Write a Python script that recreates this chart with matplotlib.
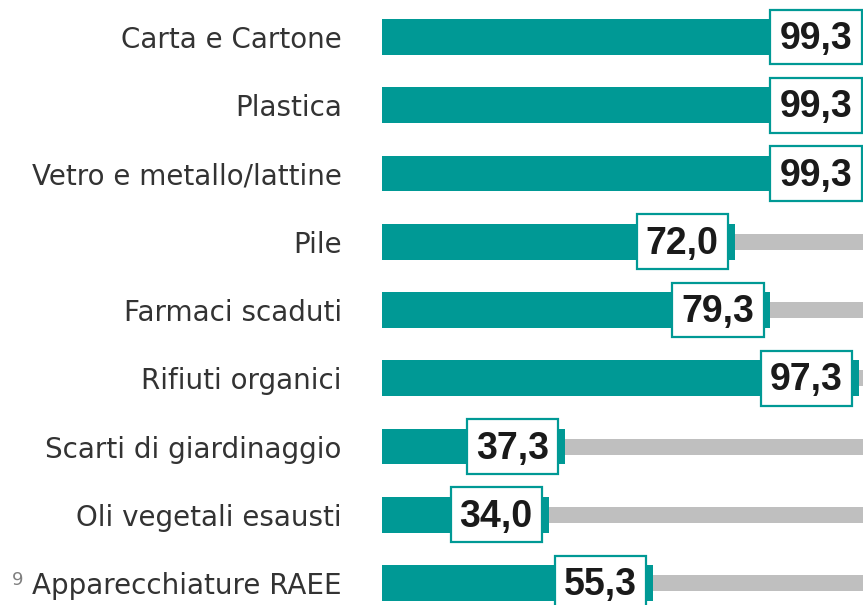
import matplotlib.pyplot as plt
from matplotlib.patches import Rectangle
from matplotlib import font_manager as fm

# data
categories = ["Carta e Cartone", "Plastica", "Vetro e metallo/lattine", "Pile",
              "Farmaci scaduti", "Rifiuti organici", "Scarti di giardinaggio",
              "Oli vegetali esausti", "Apparecchiature RAEE"]
values = [99.3, 99.3, 99.3, 72.0, 79.3, 97.3, 37.3, 34.0, 55.3]
labels = ["99,3", "99,3", "99,3", "72,0", "79,3", "97,3", "37,3", "34,0", "55,3"]

teal = "#009995"
grey = "#bfbfbf"

# make sure the regular-width Liberation Sans Bold is used, not the Narrow one
num_font = fm.FontProperties(family="Liberation Sans", weight="bold", size=27)
for f in fm.findSystemFonts():
    if f.endswith("LiberationSans-Bold.ttf"):
        num_font = fm.FontProperties(fname=f, size=27)
        break

fig = plt.figure(figsize=(8.63, 6.05), dpi=100)
ax = fig.add_axes([382 / 863, 0, 1 - 382 / 863, 1])

ypos = list(range(len(categories)))

# grey track behind, then teal bar
ax.barh(ypos, [100] * len(values), height=0.234, color=grey, zorder=1)
ax.barh(ypos, values, height=0.527, color=teal, zorder=2)

# value boxes sitting at the end of each bar
box_w = 18.6
gap = 1.4
box_h = 0.805
for y, v, lab in zip(ypos, values, labels):
    x0 = v - gap - box_w
    ax.add_patch(Rectangle((x0, y - box_h / 2), box_w, box_h, facecolor="white",
                           edgecolor=teal, linewidth=1.6, zorder=3))
    ax.text(x0 + box_w / 2, y + 0.03, lab, ha="center", va="center",
            fontproperties=num_font, color="#1a1a1a", zorder=4)

ax.set_xlim(0, 98.2)
ax.set_ylim(8 + 0.322, -0.542)
ax.set_yticks(ypos)
ax.set_yticklabels(categories, fontsize=20, family="DejaVu Sans", color="#333333")
ax.tick_params(axis="y", length=0, pad=29)
ax.set_xticks([])
for s in ax.spines.values():
    s.set_visible(False)

fig.text(12 / 863, 1 - 580 / 605, "9", fontsize=13, color="#808080",
         family="DejaVu Sans", va="center")

fig.savefig("out.png", dpi=100)
